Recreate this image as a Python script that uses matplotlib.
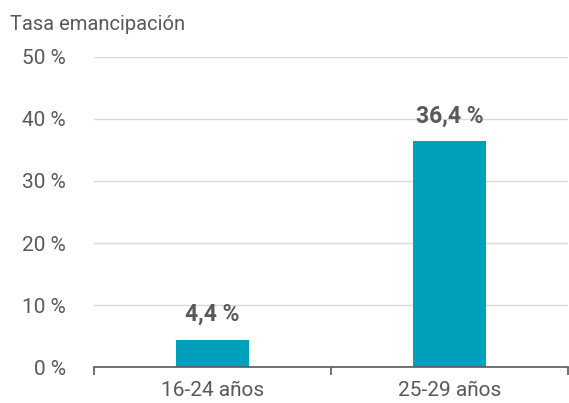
import matplotlib
matplotlib.use("Agg")
import matplotlib.pyplot as plt

categories = ["16-24 años", "25-29 años"]
values = [4.4, 36.4]
yticks = [0, 10, 20, 30, 40, 50]

plt.rcParams['font.family'] = ['Roboto', 'DejaVu Sans']
text_color = '#595959'
bar_color = '#009fbc'

fig = plt.figure(figsize=(5.69, 4.03), dpi=100)
ax = fig.add_axes([0.165, 0.0893, 0.833, 0.7693])

x = list(range(len(categories)))
bars = ax.bar(x, values, width=0.31, color=bar_color, zorder=3)
for xi, v in zip(x, values):
    ax.text(xi, v + 2.2, f"{v:.1f} %".replace('.', ','), ha='center', va='bottom',
            fontsize=16.5, fontweight='bold', color=text_color)

ax.set_xlim(-0.5, 1.5)
ax.set_ylim(0, 50)
ax.set_yticks(yticks)
ax.set_yticklabels([f"{t} %" for t in yticks])
ax.set_xticks(x)
ax.set_xticklabels(categories)
ax.set_xticks([-0.5, 0.5, 1.5], minor=True)
ax.tick_params(axis='x', which='major', length=0, pad=10, labelsize=15, labelcolor=text_color)
ax.tick_params(axis='x', which='minor', length=6, width=1.2, color=text_color, direction='out')
ax.tick_params(axis='y', length=0, pad=20, labelsize=15, labelcolor=text_color)
ax.grid(axis='y', color='#d9d9d9', linewidth=1, zorder=0)
for s in ['top', 'right', 'left']:
    ax.spines[s].set_visible(False)
ax.spines['bottom'].set_color(text_color)
ax.spines['bottom'].set_linewidth(1.2)
ax.spines['bottom'].set_zorder(4)

fig.text(0.018, 0.94, "Tasa emancipación", fontsize=14.5, color=text_color, ha='left', va='center')

fig.savefig("out.png", dpi=100)
